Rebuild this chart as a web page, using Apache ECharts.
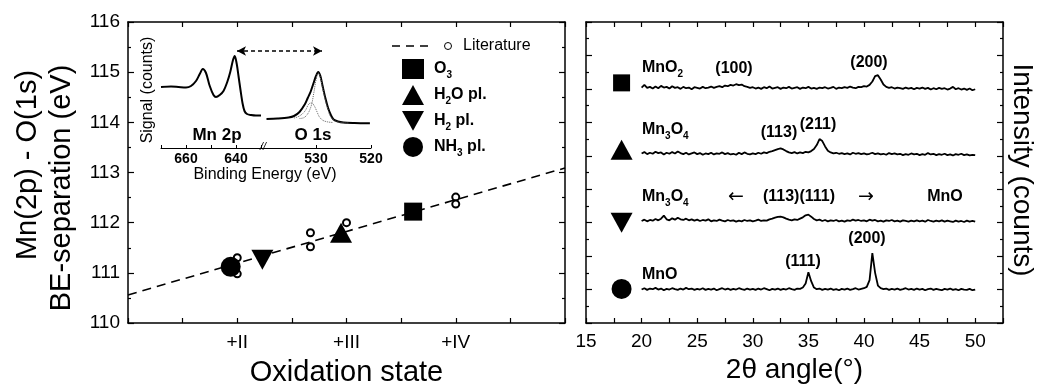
<!DOCTYPE html>
<html>
<head>
<meta charset="utf-8">
<script src="https://cdn.jsdelivr.net/npm/echarts@6/dist/echarts.min.js"></script>
<style>
  html, body { margin: 0; padding: 0; background: #fff; }
  #chart { width: 1037px; height: 384px; }
</style>
</head>
<body>
<div id="chart"></div>
<script>
const FONT = '"Liberation Sans", Arial, sans-serif';

// ---- left panel: BE separation vs oxidation state
const oxLabels = ['+II', '+III', '+IV']; // at 2, 3, 4
const litLine = [[1, 110.56], [5, 113.09]];
const litPoints = [[2, 111.3], [2, 110.98], [2.67, 111.8], [2.67, 111.52], [3, 112.0], [4, 112.51], [4, 112.37]];
const o3 = [[3.61, 112.22]];
const h2o = [[2.95, 111.8]];
const h2 = [[2.23, 111.26]];
const nh3 = [[1.94, 111.12]];

// ---- inset XPS spectra (binding energy, signal)
const mn2p = [[670, 61], [666, 61.5], [663, 61], [660, 60.5], [658, 62], [656, 67], [654.5, 74], [653.3, 79], [652, 75],
  [650.5, 62], [649, 53], [648, 51], [646.5, 53], [645, 57], [643.5, 66], [642.3, 76], [641.2, 88], [640.5, 92],
  [639.7, 84], [639, 72], [638.2, 58], [637.4, 45], [636.6, 37], [635.6, 34], [634, 33], [632, 32.5], [630, 32.5]];
const o1s = [[539, 29], [537, 29.5], [535, 30.5], [534, 32], [533, 36], [532, 44], [531.5, 50], [531, 56], [530.5, 64],
  [530, 72], [529.6, 76], [529.2, 72], [528.8, 62], [528.3, 50], [527.8, 40], [527.3, 33], [526.8, 28.5], [526, 26.5],
  [525, 25.5], [523, 25], [521, 24.8], [520.2, 24.8]];
const o1sHigh = [[534, 30], [533, 32], [532, 37], [531.3, 44], [530.8, 45], [530.3, 42], [529.8, 36], [529.3, 30.5], [528.5, 27], [527, 25.5]];
const o1sLow = [[533, 29.5], [532, 31], [531, 40], [530.4, 55], [530, 68], [529.6, 75], [529.2, 70], [528.8, 60],
  [528.3, 48], [527.8, 38], [527.3, 31], [526.5, 27], [525.5, 25.5], [524, 25]];

// ---- right panel: XRD patterns, 2theta 20..50 step 0.25
const twoTheta = Array.from({ length: 121 }, (_, i) => 20 + i * 0.25);
const xrdMnO2 = [704,712,703,706,701,707,702,709,704,706,
  701,708,703,705,700,706,702,704,699,705,
  703,701,706,702,704,707,703,706,708,705,
  710,708,712,710,714,711,713,708,706,703,
  705,701,704,700,705,702,707,701,703,705,
  700,704,702,706,701,703,705,700,704,702,
  706,701,703,700,704,702,705,701,703,706,
  700,704,702,705,703,707,704,702,706,705,
  708,707,712,722,738,741,728,713,706,703,
  705,701,704,702,700,704,701,703,699,703,
  701,704,700,703,698,702,699,703,700,702,
  698,701,706,699,702,698,701,697,701,696,
  699];
const xrdMn3O4 = [507,511,505,509,506,512,508,510,504,509,
  506,511,507,513,508,505,509,504,507,510,
  505,508,503,507,505,509,504,507,506,510,
  505,508,504,506,503,509,505,510,506,504,
  507,505,509,506,510,508,512,514,517,520,
  522,519,514,510,508,511,507,510,508,512,
  510,514,520,532,550,544,528,515,510,507,
  509,506,508,505,507,504,509,506,508,505,
  507,504,506,509,505,507,504,506,503,508,
  505,507,504,506,502,505,503,507,504,506,
  502,505,503,508,504,506,502,505,503,506,
  502,504,501,505,503,506,502,504,501,503,
  502];
const xrdH2 = [305,309,304,308,306,311,307,312,321,310,
  307,313,309,315,310,308,312,307,310,306,
  309,305,308,306,310,304,307,305,309,306,
  304,308,305,307,303,306,304,308,305,307,
  304,306,309,305,307,306,310,312,315,317,
  318,316,312,309,307,310,308,312,316,322,
  324,318,311,307,309,305,308,304,307,305,
  308,304,306,303,307,305,309,306,308,305,
  307,304,309,306,308,304,306,303,307,305,
  308,304,306,303,307,305,303,306,304,307,
  304,306,303,308,305,303,306,304,307,303,
  306,304,302,306,303,305,302,306,303,305,
  303];
const xrdMnO = [100,104,99,103,101,105,100,103,98,102,
  100,104,101,99,103,100,105,101,103,99,
  102,100,104,99,102,100,103,98,101,104,
  100,103,99,102,100,104,101,99,103,100,
  102,99,103,100,104,101,98,102,100,103,
  99,102,100,104,101,99,103,102,106,118,
  152,125,106,101,103,99,102,100,103,99,
  101,98,102,100,103,99,101,104,100,102,
  104,108,128,209,150,112,104,101,103,99,
  102,100,103,99,101,104,100,102,99,103,
  100,102,98,101,103,99,102,100,98,102,
  100,103,99,101,98,102,100,99,102,98,
  100];
const markSquare = [[18.2, 718]];
const markUp = [[18.2, 518]];
const markDown = [[18.2, 300]];
const markCircle = [[18.2, 102]];

const zip = (xs, ys) => xs.map((x, i) => [x, ys[i]]);
const downTri = 'path://M0,0 L10,0 L5,9 Z';
const black = { color: '#000', opacity: 1 };

const axisLine = { onZero: false, lineStyle: { color: '#000', width: 1.5 } };
const tick = (len) => ({ inside: true, length: len, lineStyle: { color: '#000', width: 1.2 } });
const minor = { show: true, splitNumber: 2, length: 3, lineStyle: { color: '#000', width: 1.2 } };
const noSplit = { show: false };

const rich = {
  n: { fontSize: 16, fontWeight: 'bold', fontFamily: FONT, lineHeight: 22, fill: '#000', color: '#000' },
  s: { fontSize: 10, fontWeight: 'bold', fontFamily: FONT, lineHeight: 12, verticalAlign: 'bottom', fill: '#000', color: '#000' },
  r: { fontSize: 19, fontFamily: '"DejaVu Sans", sans-serif', lineHeight: 22, fill: '#000', color: '#000' }
};

function txt(x, y, text, size, extra) {
  const st = Object.assign({
    text: text, fontSize: size, fontFamily: FONT, fill: '#000',
    align: 'center', verticalAlign: 'middle', textAlign: 'center', textVerticalAlign: 'middle', rich: rich
  }, extra || {});
  return { type: 'text', x: x, y: y, rotation: st.rot || 0, style: st, z: 100 };
}

const chart = echarts.init(document.getElementById('chart'));

chart.setOption({
  animation: false,
  backgroundColor: '#fff',
  grid: [
    { left: 128, top: 22, width: 437, height: 301, outerBoundsMode: 'none' },
    { left: 586, top: 22, width: 417, height: 301, outerBoundsMode: 'none' },
    { left: 161, top: 48, width: 100, height: 100, outerBoundsMode: 'none' },
    { left: 261, top: 48, width: 110, height: 100, outerBoundsMode: 'none' }
  ],
  xAxis: [
    {
      gridIndex: 0, type: 'value', min: 1, max: 5, interval: 0.5, position: 'bottom',
      axisLine: axisLine, axisTick: tick(5), splitLine: noSplit,
      axisLabel: {
        color: '#000', fontSize: 19, fontFamily: FONT, margin: 10,
        formatter: v => (Number.isInteger(v) && v >= 2 && v <= 4) ? oxLabels[v - 2] : ''
      },
      name: 'Oxidation state', nameLocation: 'middle', nameGap: 35,
      nameTextStyle: { color: '#000', fontSize: 29, fontFamily: FONT }
    },
    {
      gridIndex: 0, type: 'value', min: 1, max: 5, interval: 0.5, position: 'top',
      axisLine: axisLine, axisTick: tick(5), splitLine: noSplit, axisLabel: { show: false }
    },
    {
      gridIndex: 1, type: 'value', min: 15, max: 52.5, interval: 2.5, position: 'bottom',
      axisLine: axisLine, axisTick: tick(5), splitLine: noSplit,
      axisLabel: {
        color: '#000', fontSize: 19, fontFamily: FONT, margin: 9,
        formatter: v => (v % 5 === 0) ? String(v) : ''
      },
      name: '2θ angle(°)', nameLocation: 'middle', nameGap: 29,
      nameTextStyle: { color: '#000', fontSize: 28, fontFamily: FONT }
    },
    {
      gridIndex: 1, type: 'value', min: 15, max: 52.5, interval: 2.5, position: 'top',
      axisLine: axisLine, axisTick: tick(5), splitLine: noSplit, axisLabel: { show: false }
    },
    {
      gridIndex: 2, type: 'value', min: 630, max: 670, interval: 10, inverse: true, position: 'bottom',
      axisLine: { onZero: false, lineStyle: { color: '#000', width: 1 } },
      axisTick: { inside: true, length: 3, lineStyle: { color: '#000' } }, splitLine: noSplit,
      axisLabel: {
        color: '#000', fontSize: 14, fontWeight: 'bold', fontFamily: FONT, margin: 4,
        formatter: v => (v === 640 || v === 660) ? String(v) : ''
      }
    },
    {
      gridIndex: 3, type: 'value', min: 520, max: 540, interval: 10, inverse: true, position: 'bottom',
      axisLine: { onZero: false, lineStyle: { color: '#000', width: 1 } },
      axisTick: { inside: true, length: 3, lineStyle: { color: '#000' } }, splitLine: noSplit,
      axisLabel: {
        color: '#000', fontSize: 14, fontWeight: 'bold', fontFamily: FONT, margin: 4,
        formatter: v => (v === 520 || v === 530) ? String(v) : ''
      }
    }
  ],
  yAxis: [
    {
      gridIndex: 0, type: 'value', min: 110, max: 116, interval: 1, position: 'left',
      axisLine: axisLine, axisTick: tick(6), minorTick: minor, splitLine: noSplit, minorSplitLine: noSplit,
      axisLabel: { color: '#000', fontSize: 19, fontFamily: FONT, margin: 8 }
    },
    {
      gridIndex: 0, type: 'value', min: 110, max: 116, interval: 1, position: 'right',
      axisLine: axisLine, axisTick: tick(6), minorTick: minor, splitLine: noSplit, axisLabel: { show: false }
    },
    {
      gridIndex: 1, type: 'value', min: 0, max: 900, interval: 100, position: 'left',
      axisLine: axisLine, axisTick: tick(6), minorTick: minor, splitLine: noSplit, axisLabel: { show: false }
    },
    {
      gridIndex: 1, type: 'value', min: 0, max: 900, interval: 100, position: 'right',
      axisLine: axisLine, axisTick: tick(6), minorTick: minor, splitLine: noSplit, axisLabel: { show: false }
    },
    { gridIndex: 2, type: 'value', min: 0, max: 100, show: false },
    { gridIndex: 3, type: 'value', min: 0, max: 100, show: false }
  ],
  legend: {
    orient: 'vertical', left: 397, top: 54, itemWidth: 22, itemHeight: 20, itemGap: 5,
    data: ['O3', 'H2O pl.', 'H2 pl.', 'NH3 pl.'],
    formatter: name => ({
      'O3': '{n|O}{s|3}',
      'H2O pl.': '{n|H}{s|2}{n|O pl.}',
      'H2 pl.': '{n|H}{s|2}{n| pl.}',
      'NH3 pl.': '{n|NH}{s|3}{n| pl.}'
    })[name],
    textStyle: { color: '#000', padding: [0, 0, 0, 5], rich: rich },
    selectedMode: false
  },
  series: [
    {
      name: 'Literature line', type: 'line', xAxisIndex: 0, yAxisIndex: 0, data: litLine,
      symbol: 'none', lineStyle: { color: '#000', width: 1.6, type: [9, 6] }, z: 2
    },
    {
      name: 'Literature', type: 'scatter', xAxisIndex: 0, yAxisIndex: 0, data: litPoints,
      symbol: 'emptyCircle', symbolSize: 7, itemStyle: { color: '#000', borderColor: '#000', borderWidth: 1, opacity: 1 }, z: 3
    },
    { name: 'O3', type: 'scatter', xAxisIndex: 0, yAxisIndex: 0, data: o3, symbol: 'rect', symbolSize: 18, itemStyle: black, z: 4 },
    { name: 'H2O pl.', type: 'scatter', xAxisIndex: 0, yAxisIndex: 0, data: h2o, symbol: 'triangle', symbolSize: [22, 20], itemStyle: black, z: 4 },
    { name: 'H2 pl.', type: 'scatter', xAxisIndex: 0, yAxisIndex: 0, data: h2, symbol: downTri, symbolSize: [22, 20], itemStyle: black, z: 4 },
    { name: 'NH3 pl.', type: 'scatter', xAxisIndex: 0, yAxisIndex: 0, data: nh3, symbol: 'circle', symbolSize: 20, itemStyle: black, z: 4 },

    // inset
    {
      name: 'Mn 2p', type: 'line', xAxisIndex: 4, yAxisIndex: 4, data: mn2p, smooth: 0.3,
      symbol: 'none', lineStyle: { color: '#000', width: 2 }
    },
    {
      name: 'O 1s', type: 'line', xAxisIndex: 5, yAxisIndex: 5, data: o1s, smooth: 0.3,
      symbol: 'none', lineStyle: { color: '#000', width: 2 },
      markLine: {
        silent: true, symbol: ['arrow', 'arrow'], symbolSize: [7, 9],
        lineStyle: { color: '#000', width: 1.5, type: [4, 3] }, label: { show: false },
        data: [[{ x: 237, y: 51 }, { x: 322, y: 51 }]]
      }
    },
    {
      name: 'O 1s a', type: 'line', xAxisIndex: 5, yAxisIndex: 5, data: o1sHigh, smooth: 0.4,
      symbol: 'none', lineStyle: { color: '#666', width: 1, type: 'dotted' }
    },
    {
      name: 'O 1s b', type: 'line', xAxisIndex: 5, yAxisIndex: 5, data: o1sLow, smooth: 0.4,
      symbol: 'none', lineStyle: { color: '#666', width: 1, type: 'dotted' }
    },

    // XRD
    { name: 'MnO2', type: 'line', xAxisIndex: 2, yAxisIndex: 2, data: zip(twoTheta, xrdMnO2), symbol: 'none', lineStyle: { color: '#000', width: 1.8 } },
    { name: 'Mn3O4', type: 'line', xAxisIndex: 2, yAxisIndex: 2, data: zip(twoTheta, xrdMn3O4), symbol: 'none', lineStyle: { color: '#000', width: 1.8 } },
    { name: 'Mix', type: 'line', xAxisIndex: 2, yAxisIndex: 2, data: zip(twoTheta, xrdH2), symbol: 'none', lineStyle: { color: '#000', width: 1.8 } },
    { name: 'MnO', type: 'line', xAxisIndex: 2, yAxisIndex: 2, data: zip(twoTheta, xrdMnO), symbol: 'none', lineStyle: { color: '#000', width: 1.8 } },
    { name: 'mk1', type: 'scatter', xAxisIndex: 2, yAxisIndex: 2, data: markSquare, symbol: 'rect', symbolSize: 17, itemStyle: black },
    { name: 'mk2', type: 'scatter', xAxisIndex: 2, yAxisIndex: 2, data: markUp, symbol: 'triangle', symbolSize: [22, 20], itemStyle: black },
    { name: 'mk3', type: 'scatter', xAxisIndex: 2, yAxisIndex: 2, data: markDown, symbol: downTri, symbolSize: [22, 20], itemStyle: black },
    { name: 'mk4', type: 'scatter', xAxisIndex: 2, yAxisIndex: 2, data: markCircle, symbol: 'circle', symbolSize: 20, itemStyle: black }
  ],
  graphic: [
    // left y title
    txt(28, 165, 'Mn(2p) - O(1s)', 29, { rot: Math.PI / 2 }),
    txt(62, 188, 'BE-separation (eV)', 29, { rot: Math.PI / 2 }),
    // right y title
    txt(1022, 170, 'Intensity (counts)', 28, { rot: -Math.PI / 2 }),
    // inset texts
    txt(148, 90, 'Signal (counts)', 16, { rot: Math.PI / 2 }),
    txt(217, 135, 'Mn 2p', 17, { fontWeight: 'bold' }),
    txt(313, 135, 'O 1s', 17, { fontWeight: 'bold' }),
    txt(265, 175, 'Binding Energy (eV)', 16),
    txt(263, 147, '//', 11, { fontStyle: 'italic' }),
    // literature legend entry
    { type: 'line', shape: { x1: 392, y1: 46, x2: 430, y2: 46 }, style: { stroke: '#000', lineWidth: 1.5, lineDash: [8, 6] }, z: 100 },
    { type: 'circle', shape: { cx: 448, cy: 46, r: 3.5 }, style: { fill: '#fff', stroke: '#000', lineWidth: 1 }, z: 100 },
    txt(463, 46, 'Literature', 16, { align: 'left', textAlign: 'left' }),
    // XRD annotations
    txt(642, 68, '{n|MnO}{s|2}', 16, { align: 'left', textAlign: 'left' }),
    txt(734, 69, '{n|(100)}', 16),
    txt(869, 63, '{n|(200)}', 16),
    txt(642, 130, '{n|Mn}{s|3}{n|O}{s|4}', 16, { align: 'left', textAlign: 'left' }),
    txt(779, 133, '{n|(113)}', 16),
    txt(818, 125, '{n|(211)}', 16),
    txt(642, 197, '{n|Mn}{s|3}{n|O}{s|4}', 16, { align: 'left', textAlign: 'left' }),
    txt(736, 197, '{r|←}', 16),
    txt(799, 197, '{n|(113)(111)}', 16),
    txt(866, 197, '{r|→}', 16),
    txt(945, 197, '{n|MnO}', 16),
    txt(867, 239, '{n|(200)}', 16),
    txt(803, 262, '{n|(111)}', 16),
    txt(642, 275, '{n|MnO}', 16, { align: 'left', textAlign: 'left' })
  ]
});
</script>
</body>
</html>
